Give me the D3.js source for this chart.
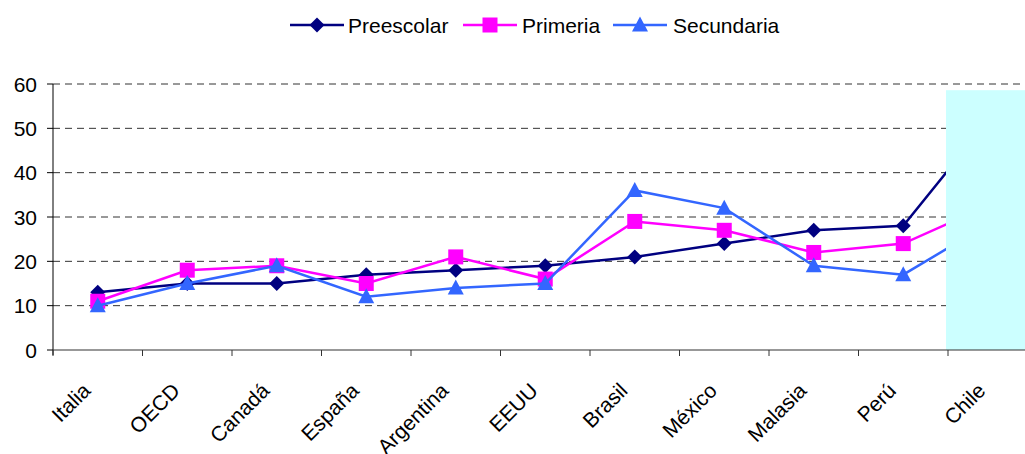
<!DOCTYPE html>
<html>
<head>
<meta charset="utf-8">
<script src="https://cdn.jsdelivr.net/npm/d3@7"></script>
<style>
  body { margin: 0; background: #fff; }
  svg { display: block; font-family: "Liberation Sans", Arial, sans-serif; }
</style>
</head>
<body>
<div id="chart"></div>
<script>
// data
const categories = ["Italia", "OECD", "Canadá", "España", "Argentina", "EEUU", "Brasil", "México", "Malasia", "Perú", "Chile"];
const preescolar = [13, 15, 15, 17, 18, 19, 21, 24, 27, 28, 53];
const primeria = [11, 18, 19, 15, 21, 16, 29, 27, 22, 24, 33];
const secundaria = [10, 15, 19, 12, 14, 15, 36, 32, 19, 17, 29];
const yTicks = [0, 10, 20, 30, 40, 50, 60];

const series = [
  { name: "Preescolar", values: preescolar, color: "#000080", shape: "diamond" },
  { name: "Primeria", values: primeria, color: "#FF00FF", shape: "square" },
  { name: "Secundaria", values: secundaria, color: "#3366FF", shape: "triangle" }
];

(function () {
  const W = 1025, H = 454;
  const left = 53, top = 84, bottom = 350;
  const band = 89.5;
  const fontSize = "21px";

  const svg = d3.select("#chart").append("svg")
    .attr("width", W).attr("height", H);

  const x = d3.scaleBand()
    .domain(categories)
    .range([left, left + band * categories.length]);
  const xc = (d) => x(d) + x.bandwidth() / 2;

  const y = d3.scaleLinear().domain([0, 60]).range([bottom, top]);

  // gridlines
  svg.append("g")
    .selectAll("line")
    .data(yTicks.filter((d) => d > 0))
    .join("line")
    .attr("x1", left).attr("x2", W)
    .attr("y1", (d) => y(d)).attr("y2", (d) => y(d))
    .attr("stroke", "#333")
    .attr("stroke-width", 1)
    .attr("stroke-dasharray", "7,5");

  // y axis
  const yAxis = svg.append("g");
  yAxis.append("line")
    .attr("x1", left).attr("x2", left)
    .attr("y1", top).attr("y2", bottom + 5)
    .attr("stroke", "#000");
  yAxis.selectAll(".yt")
    .data(yTicks)
    .join("line")
    .attr("x1", left - 6).attr("x2", left)
    .attr("y1", (d) => y(d)).attr("y2", (d) => y(d))
    .attr("stroke", "#000");
  yAxis.selectAll("text")
    .data(yTicks)
    .join("text")
    .attr("x", 37)
    .attr("y", (d) => y(d))
    .attr("dy", "0.36em")
    .attr("text-anchor", "end")
    .attr("font-size", fontSize)
    .attr("fill", "#000")
    .text((d) => d);

  // lines + markers
  const line = d3.line()
    .x((d, i) => xc(categories[i]))
    .y((d) => y(d));

  const shapes = {
    diamond: "M0,-7.5L7.5,0L0,7.5L-7.5,0Z",
    square: "M-7.5,-7.5H7.5V7.5H-7.5Z",
    triangle: "M0,-8.5L8,6.5H-8Z"
  };

  series.forEach((s) => {
    svg.append("path")
      .attr("d", line(s.values))
      .attr("fill", "none")
      .attr("stroke", s.color)
      .attr("stroke-width", 2.5);
    svg.append("g")
      .selectAll("path")
      .data(s.values)
      .join("path")
      .attr("transform", (d, i) => `translate(${xc(categories[i])},${y(d)})`)
      .attr("d", shapes[s.shape])
      .attr("fill", s.color);
  });

  // cyan highlight over Chile
  svg.append("rect")
    .attr("x", x("Chile") - 2)
    .attr("y", y(58.6))
    .attr("width", W)
    .attr("height", bottom - y(58.6))
    .attr("fill", "#CCFFFF");

  // x axis
  const xAxis = svg.append("g");
  xAxis.append("line")
    .attr("x1", left).attr("x2", W)
    .attr("y1", bottom).attr("y2", bottom)
    .attr("stroke", "#333")
    .attr("stroke-width", 1.2);
  xAxis.selectAll(".xt")
    .data(categories)
    .join("line")
    .attr("x1", (d) => x(d)).attr("x2", (d) => x(d))
    .attr("y1", bottom).attr("y2", bottom + 6)
    .attr("stroke", "#333");
  xAxis.selectAll("text")
    .data(categories)
    .join("text")
    .attr("transform", (d) => `translate(${xc(d) - 6},${bottom + 42}) rotate(-45)`)
    .attr("text-anchor", "end")
    .attr("font-size", fontSize)
    .attr("fill", "#000")
    .text((d) => d);

  // legend
  const legendItems = [
    { s: series[0], x0: 290, tx: 348 },
    { s: series[1], x0: 463, tx: 522 },
    { s: series[2], x0: 613, tx: 673 }
  ];
  const lg = svg.append("g");
  legendItems.forEach((it) => {
    lg.append("line")
      .attr("x1", it.x0).attr("x2", it.x0 + 54)
      .attr("y1", 25).attr("y2", 25)
      .attr("stroke", it.s.color)
      .attr("stroke-width", 2.5);
    lg.append("path")
      .attr("transform", `translate(${it.x0 + 27},25)`)
      .attr("d", shapes[it.s.shape])
      .attr("fill", it.s.color);
    lg.append("text")
      .attr("x", it.tx)
      .attr("y", 25)
      .attr("dy", "0.36em")
      .attr("font-size", fontSize)
      .attr("fill", "#000")
      .text(it.s.name);
  });
})();
</script>
</body>
</html>
